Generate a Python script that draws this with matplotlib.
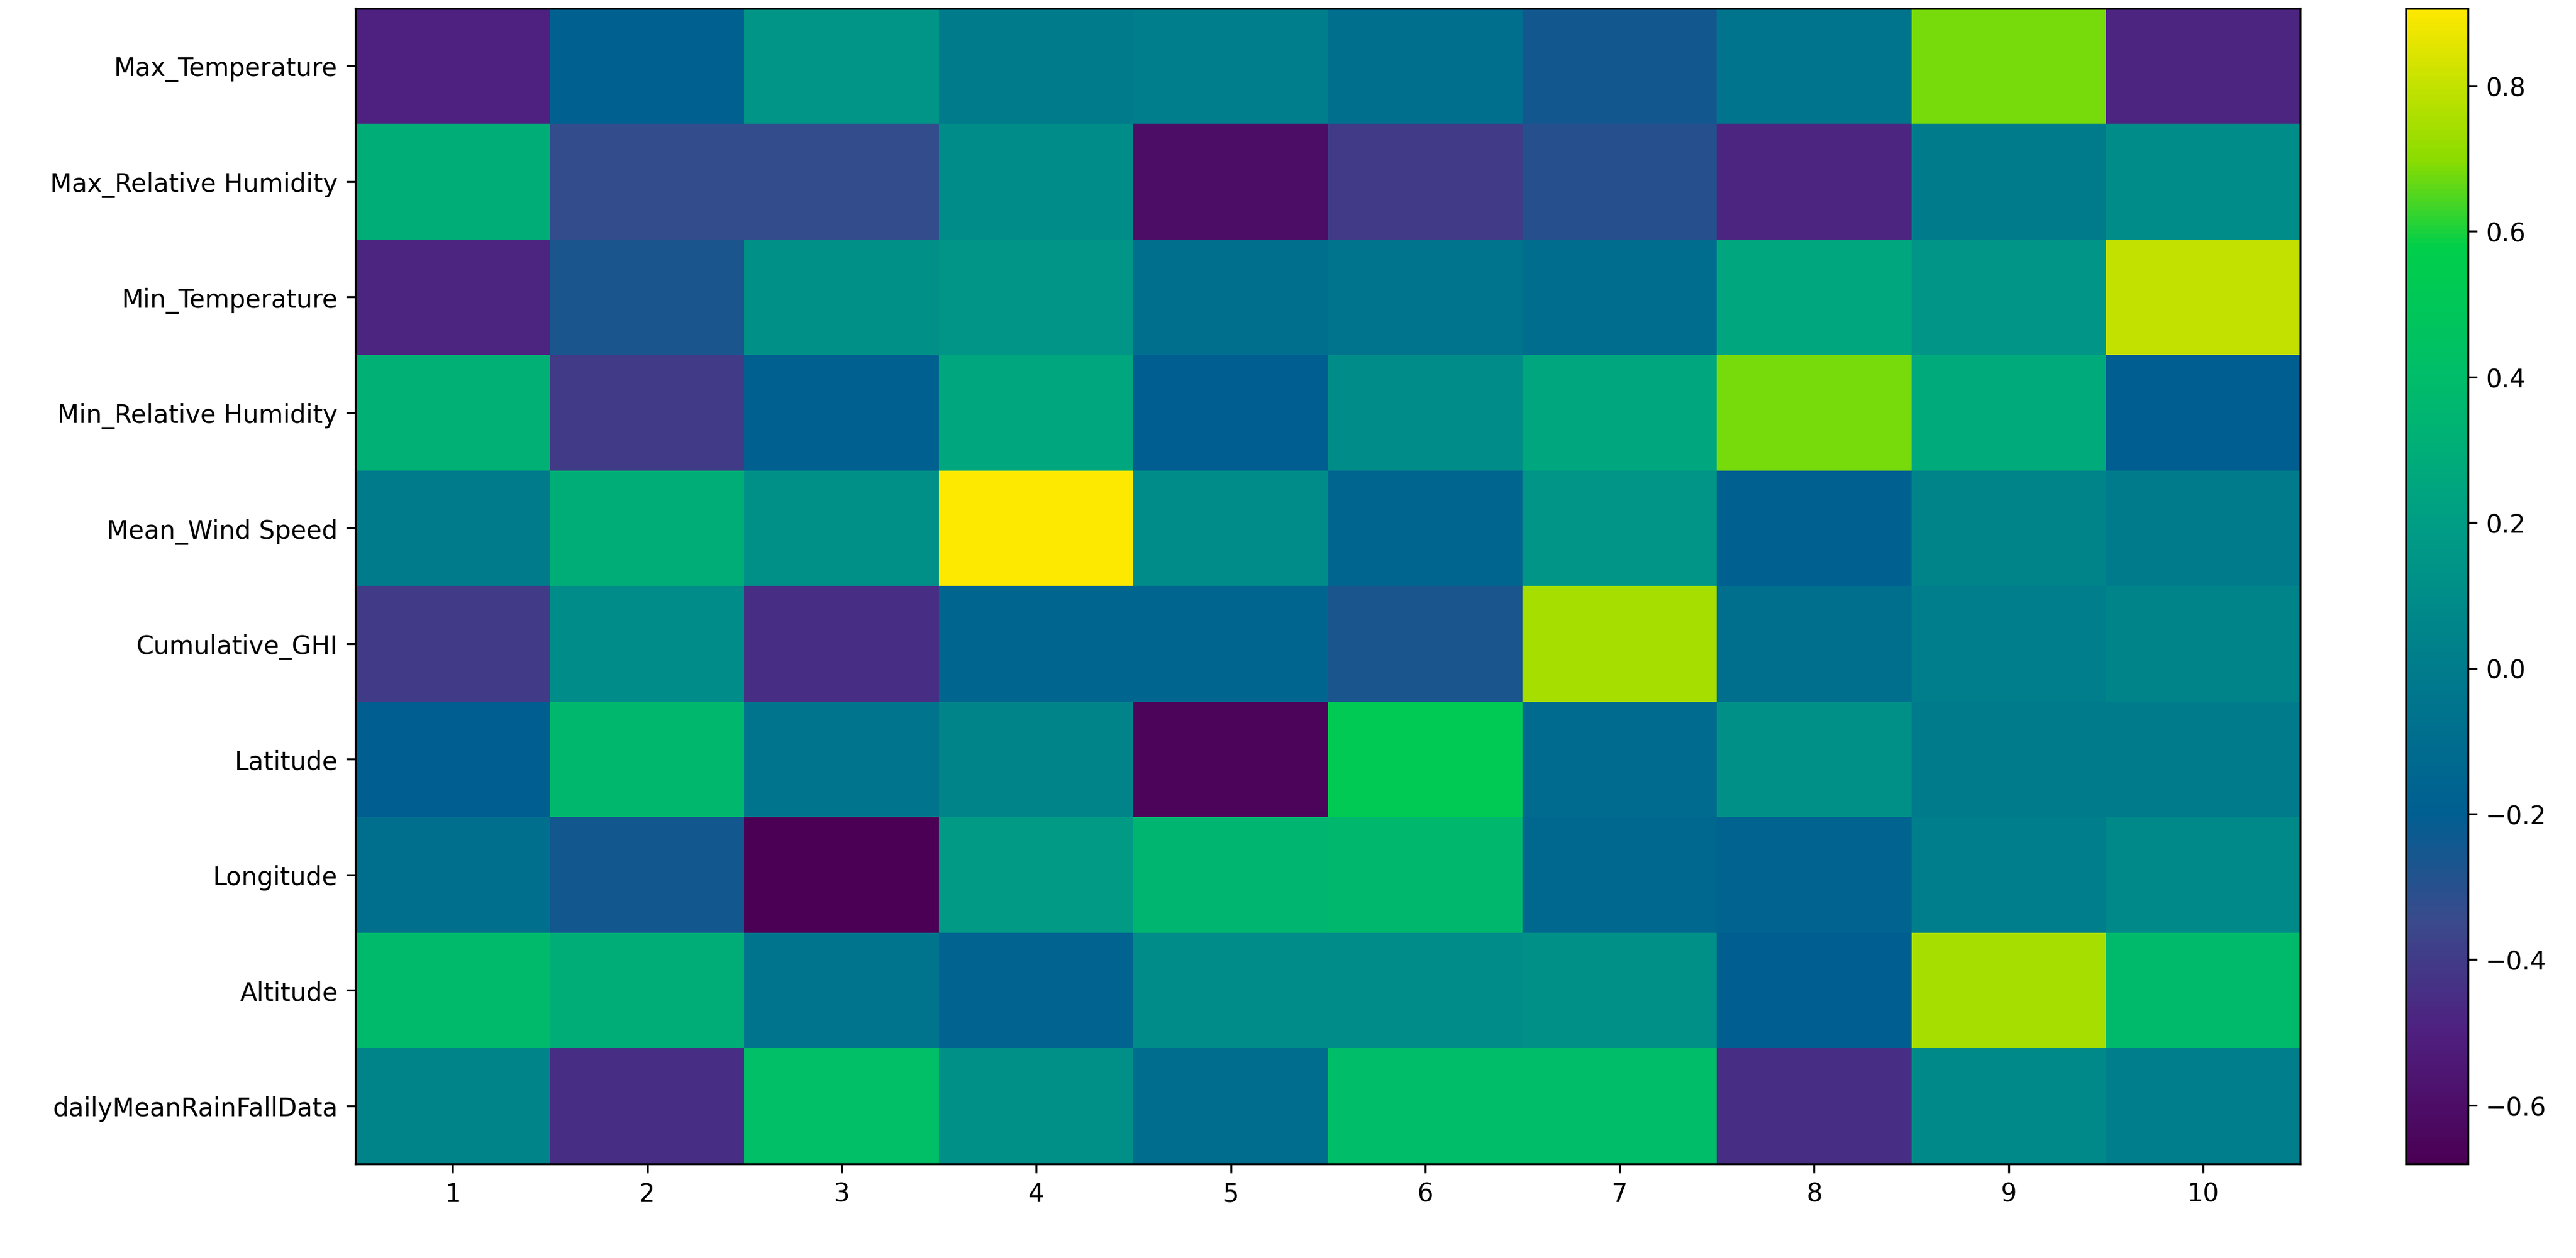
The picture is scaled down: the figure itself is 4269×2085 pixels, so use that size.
import matplotlib
matplotlib.use("Agg")
import matplotlib.pyplot as plt
from matplotlib.colors import LinearSegmentedColormap
import numpy as np

rows = ["Max_Temperature", "Max_Relative Humidity", "Min_Temperature", "Min_Relative Humidity",
        "Mean_Wind Speed", "Cumulative_GHI", "Latitude", "Longitude", "Altitude", "dailyMeanRainFallData"]
cols = ["1", "2", "3", "4", "5", "6", "7", "8", "9", "10"]
r_max_temp = [-0.50, -0.18, 0.15, 0.00, 0.02, -0.08, -0.25, -0.05, 0.68, -0.48]
r_max_rh = [0.30, -0.33, -0.33, 0.10, -0.60, -0.40, -0.30, -0.48, 0.00, 0.10]
r_min_temp = [-0.48, -0.27, 0.12, 0.15, -0.08, -0.06, -0.10, 0.25, 0.15, 0.80]
r_min_rh = [0.32, -0.40, -0.18, 0.25, -0.20, 0.10, 0.25, 0.68, 0.28, -0.20]
r_wind = [0.00, 0.30, 0.12, 0.90, 0.10, -0.15, 0.15, -0.18, 0.05, 0.00]
r_ghi = [-0.40, 0.10, -0.45, -0.15, -0.15, -0.27, 0.75, -0.08, 0.02, 0.05]
r_lat = [-0.20, 0.37, -0.05, 0.05, -0.65, 0.52, -0.12, 0.12, 0.00, 0.00]
r_lon = [-0.08, -0.25, -0.68, 0.18, 0.35, 0.37, -0.14, -0.17, 0.02, 0.08]
r_alt = [0.38, 0.30, -0.05, -0.17, 0.10, 0.10, 0.12, -0.20, 0.75, 0.38]
r_rain = [0.05, -0.45, 0.42, 0.12, -0.10, 0.40, 0.40, -0.45, 0.08, 0.02]

data = np.array([r_max_temp, r_max_rh, r_min_temp, r_min_rh, r_wind, r_ghi, r_lat, r_lon, r_alt, r_rain])

vmin, vmax = -0.68, 0.906
stops = [(-0.68, "#4b0055"), (-0.5, "#4f2080"), (-0.35, "#3a4a8c"), (-0.2, "#005f91"),
         (0.0, "#007c8c"), (0.2, "#009e85"), (0.4, "#00bd6a"), (0.58, "#00cf4a"),
         (0.7, "#8bdc00"), (0.906, "#fde800")]
cmap = LinearSegmentedColormap.from_list(
    "vivid", [((v - vmin) / (vmax - vmin), c) for v, c in stops])

fig = plt.figure(figsize=(14.23, 6.953), dpi=300)
ax = fig.add_axes([0.138, 0.075, 0.755, 0.918])
cax = fig.add_axes([0.934, 0.075, 0.024, 0.918])
im = ax.imshow(data, cmap=cmap, vmin=vmin, vmax=vmax, aspect="auto")
ax.set_xticks(range(len(cols)))
ax.set_xticklabels(cols)
ax.set_yticks(range(len(rows)))
ax.set_yticklabels(rows)
fig.colorbar(im, cax=cax)
fig.savefig("out.png")
